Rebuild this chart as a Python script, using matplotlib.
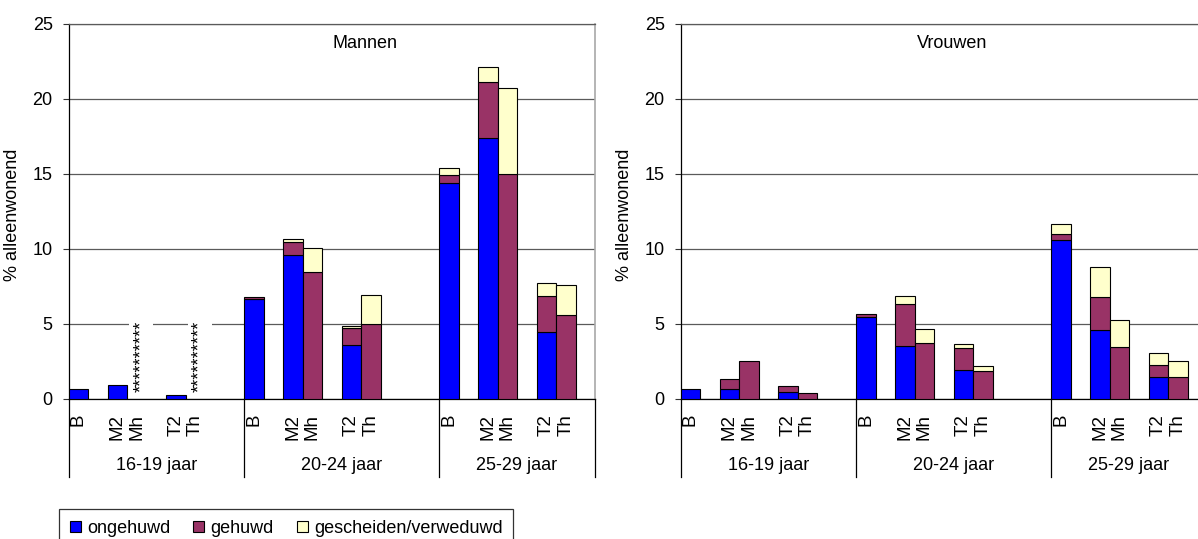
import numpy as np
import matplotlib
matplotlib.use('Agg')
import matplotlib.pyplot as plt

plt.rcParams['font.family'] = ['Liberation Sans', 'DejaVu Sans']

# ---------------- data ----------------
groups = ['16-19 jaar', '20-24 jaar', '25-29 jaar']
categories = ['B', 'M2', 'Mh', 'T2', 'Th']
statuses = ['ongehuwd', 'gehuwd', 'gescheiden/verweduwd']
colors = ['#0000FF', '#993366', '#FFFFCC']

# Mannen (per group: B, M2, Mh, T2, Th)
men_ongehuwd = [0.65, 0.87, 0.0, 0.25, 0.0,
                6.65, 9.60, 0.0, 3.60, 0.0,
                14.40, 17.40, 0.0, 4.45, 0.0]
men_gehuwd = [0.0, 0.0, 0.0, 0.0, 0.0,
              0.12, 0.87, 8.45, 1.10, 5.00,
              0.50, 3.70, 15.00, 2.40, 5.55]
men_gescheiden = [0.0, 0.0, 0.0, 0.0, 0.0,
                  0.0, 0.20, 1.60, 0.17, 1.90,
                  0.50, 1.05, 5.70, 0.85, 2.00]
men_missing = [False, False, True, False, True,
               False, False, False, False, False,
               False, False, False, False, False]

# Vrouwen
women_ongehuwd = [0.62, 0.62, 0.0, 0.45, 0.0,
                  5.43, 3.50, 0.0, 1.90, 0.0,
                  10.60, 4.60, 0.0, 1.43, 0.0]
women_gehuwd = [0.0, 0.65, 2.47, 0.40, 0.40,
                0.20, 2.80, 3.72, 1.45, 1.85,
                0.40, 2.20, 3.45, 0.82, 1.43]
women_gescheiden = [0.0, 0.0, 0.0, 0.0, 0.0,
                    0.0, 0.57, 0.90, 0.32, 0.32,
                    0.64, 1.98, 1.80, 0.80, 1.05]
women_missing = [False] * 15

# ---------------- layout ----------------
cat_offsets = [0, 2, 3, 5, 6]
group_starts = [0, 9, 19]
n_slots = 27
dividers = [-0.5, 8.5, 18.5, 26.5]

W, H = 1198, 539
fig = plt.figure(figsize=(W / 100, H / 100), dpi=100)

FS = 13
GRID = '#5a5a5a'
EDGE_LW = 0.8


def slot_positions():
    pos = []
    for g in group_starts:
        for o in cat_offsets:
            pos.append(g + o)
    return np.array(pos)


def draw_panel(ax, title, title_x, ong, geh, ges, missing):
    pos = slot_positions()
    ong = np.array(ong)
    geh = np.array(geh)
    ges = np.array(ges)
    series = [ong, geh, ges]
    bottoms = [np.zeros_like(ong), ong, ong + geh]
    handles = []
    for vals, bot, col, lab in zip(series, bottoms, colors, statuses):
        m = vals > 0
        bc = ax.bar(pos[m], vals[m], bottom=bot[m], width=1.0, color=col,
                    edgecolor='black', linewidth=EDGE_LW, label=lab, zorder=3)
        handles.append(bc)

    for p, miss in zip(pos, missing):
        if miss:
            ax.text(p + 0.22, 2.8, '*' * 10, rotation=90, ha='center', va='center',
                    fontsize=FS, zorder=4,
                    bbox=dict(facecolor='white', edgecolor='none', pad=2.5))

    ax.set_xlim(-0.5, n_slots - 0.5)
    ax.set_ylim(0, 25)
    ax.set_yticks(range(0, 26, 5))
    ax.yaxis.grid(True, color=GRID, linewidth=0.9)
    ax.set_axisbelow(True)

    labels = [''] * n_slots
    for k, p in enumerate(pos):
        labels[p] = categories[k % len(categories)]
    ax.set_xticks(range(n_slots))
    ax.set_xticklabels(labels, rotation=90, va='top', ha='center', fontsize=13.5)
    ax.tick_params(axis='x', length=0, pad=11)
    ax.tick_params(axis='y', direction='out', length=4.5, width=0.8,
                   color='#333333', pad=7, labelsize=FS)

    for sp in ['left', 'bottom']:
        ax.spines[sp].set_color('black')
        ax.spines[sp].set_linewidth(0.9)
    ax.spines['top'].set_color(GRID)
    ax.spines['top'].set_linewidth(0.9)
    ax.spines['right'].set_color('#a8a8a8')
    ax.spines['right'].set_linewidth(1.2)

    for d in dividers:
        ax.plot([d, d], [0, -5.21], color='black', linewidth=0.9,
                clip_on=False, zorder=5)
    for i, lab in enumerate(groups):
        start = group_starts[i]
        end = group_starts[i + 1] if i + 1 < len(group_starts) else n_slots
        ax.text((start + end - 1) / 2, -4.5, lab, ha='center', va='center',
                fontsize=FS, clip_on=False)

    ax.text(title_x, 23.7, title, ha='center', va='center', fontsize=FS)
    ax.set_ylabel('% alleenwonend', fontsize=FS)
    ax.yaxis.set_label_coords(-0.0906, 0.49)
    return handles


ax_w = 526.3 / W
ax_h = 374.5 / H
ax_b = 1 - 398.5 / H
ax1 = fig.add_axes([68.7 / W, ax_b, ax_w, ax_h])
ax2 = fig.add_axes([680.7 / W, ax_b, ax_w, ax_h])

handles = draw_panel(ax1, 'Mannen', 14.7, men_ongehuwd, men_gehuwd,
                     men_gescheiden, men_missing)
draw_panel(ax2, 'Vrouwen', 13.4, women_ongehuwd, women_gehuwd,
           women_gescheiden, women_missing)

leg = fig.legend(handles=handles, labels=statuses, loc='upper left',
                 bbox_to_anchor=(59 / W, 1 - 509 / H), ncol=3,
                 fontsize=FS, frameon=True, fancybox=False, shadow=False,
                 borderpad=0.6, borderaxespad=0, handlelength=0.62,
                 handleheight=0.62, handletextpad=0.35, columnspacing=1.25)
leg.get_frame().set_edgecolor('black')
leg.get_frame().set_linewidth(0.9)

fig.savefig('out.png', dpi=100)
